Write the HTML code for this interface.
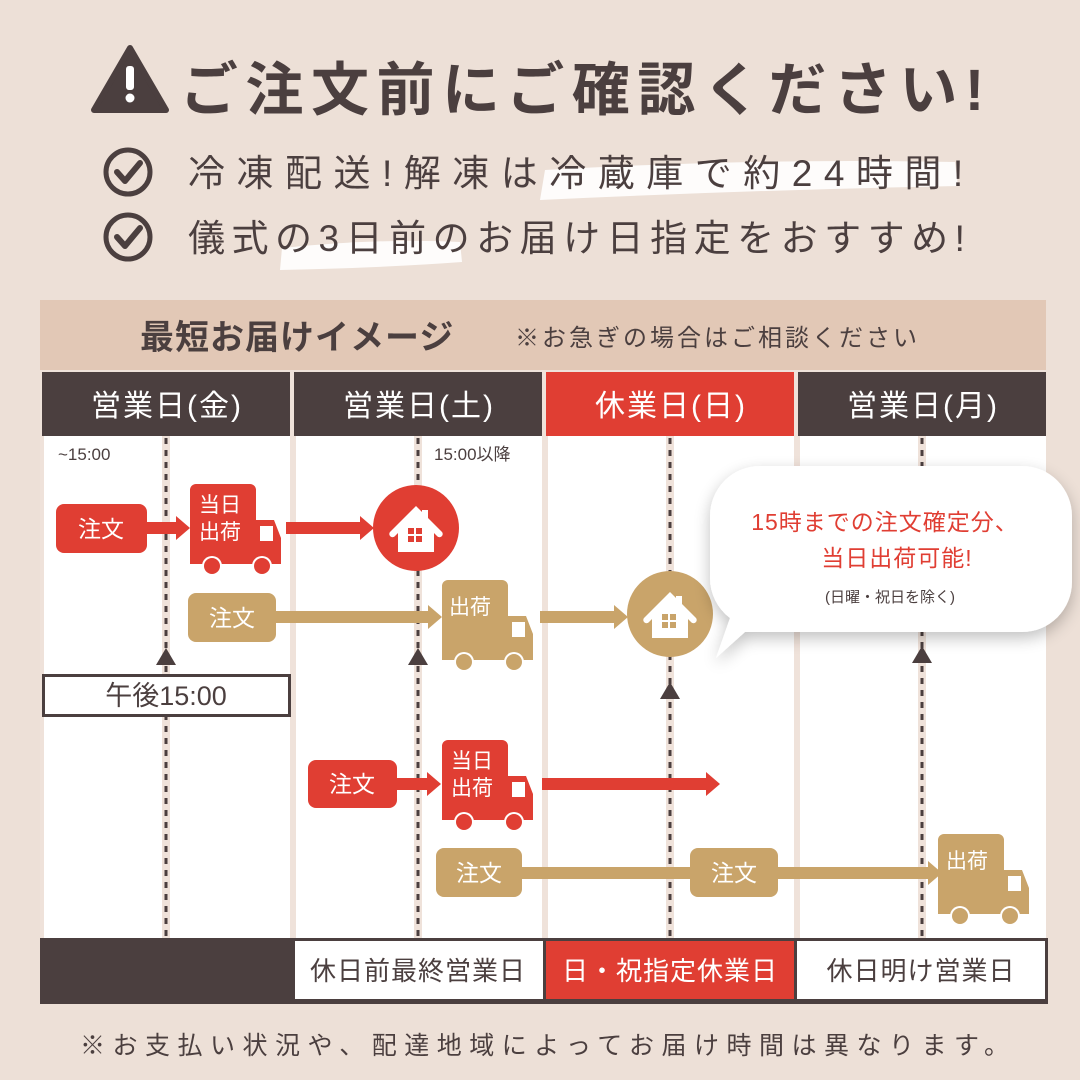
<!DOCTYPE html>
<html><head><meta charset="utf-8"><style>
html,body{margin:0;padding:0;background:#ede0d7;}
svg{display:block}
text{font-family:"Liberation Sans","Noto Sans CJK JP",sans-serif;}
</style></head><body>
<svg width="1080" height="1080" viewBox="0 0 1080 1080" xmlns="http://www.w3.org/2000/svg">
<defs>
<g id="truck">
<path d="M6 0 H60 a6 6 0 0 1 6 6 V36 H84 L91 54 V80 H0 V6 a6 6 0 0 1 6 -6Z"/>
<rect x="70" y="42" width="13" height="15" fill="#fff"/>
<circle cx="22" cy="82" r="10" fill="#fff"/><circle cx="22" cy="82" r="8"/>
<circle cx="72" cy="82" r="10" fill="#fff"/><circle cx="72" cy="82" r="8"/>
</g>
<g id="house">
<path d="M0 -24 L26 2 a3 3 0 0 1 -5 4 L18 3 V22 H-18 V3 L-21 6 a3 3 0 0 1 -5 -4Z" fill="#fff"/>
<rect x="6" y="-20" width="6" height="12" fill="#fff"/>
<rect x="-8" y="-2" width="6" height="6"/><rect x="0" y="-2" width="6" height="6"/>
<rect x="-8" y="6" width="6" height="6"/><rect x="0" y="6" width="6" height="6"/>
</g>
<filter id="sh" x="-20%" y="-20%" width="140%" height="160%"><feGaussianBlur in="SourceAlpha" stdDeviation="8"/><feOffset dy="6"/><feComponentTransfer><feFuncA type="linear" slope="0.25"/></feComponentTransfer><feMerge><feMergeNode/><feMergeNode in="SourceGraphic"/></feMerge></filter>
</defs>
<rect width="1080" height="1080" fill="#ede0d7"/>
<!-- title -->
<path d="M130 48 L166 110 H94 Z" fill="#4b3f3f" stroke="#4b3f3f" stroke-width="6" stroke-linejoin="round"/>
<rect x="126" y="66" width="8" height="24" rx="3" fill="#fff"/><circle cx="130" cy="98" r="4.5" fill="#fff"/>
<text x="180" y="110" font-size="58" font-weight="bold" fill="#4b3f3f" letter-spacing="7.5">ご注文前にご確認ください!</text>
<path d="M545 170 Q750 158 955 162 L958 186 Q750 190 540 200Z" fill="#fff" opacity="0.9"/>
<path d="M282 248 Q380 238 460 242 L462 262 Q380 268 280 270Z" fill="#fff" opacity="0.9"/>
<g fill="none" stroke="#4b3f3f" stroke-width="5"><circle cx="128" cy="172" r="22"/><circle cx="128" cy="237" r="22"/>
<path d="M117 172 l8 9 l15 -18 M117 237 l8 9 l15 -18" stroke-width="6" stroke-linecap="round" stroke-linejoin="round"/></g>
<text x="188" y="186" font-size="37" fill="#4b3f3f" letter-spacing="11.5">冷凍配送!解凍は冷蔵庫で約24時間!</text>
<text x="188" y="251" font-size="37" fill="#4b3f3f" letter-spacing="6.5">儀式の3日前のお届け日指定をおすすめ!</text>
<!-- panel -->
<rect x="40" y="300" width="1006" height="70" fill="#e2c8b6"/>
<text x="140" y="349" font-size="34" font-weight="bold" fill="#4b3f3f" letter-spacing="1">最短お届けイメージ</text>
<text x="515" y="346" font-size="24" fill="#4b3f3f" letter-spacing="3">※お急ぎの場合はご相談ください</text>
<rect x="40" y="370" width="1006" height="568" fill="#efe2da"/>
<g fill="#fff"><rect x="44" y="436" width="246" height="502"/><rect x="296" y="436" width="246" height="502"/><rect x="548" y="436" width="246" height="502"/><rect x="800" y="436" width="246" height="502"/></g>
<g fill="#4b3f3f"><rect x="42" y="372" width="248" height="64"/><rect x="294" y="372" width="248" height="64"/><rect x="798" y="372" width="248" height="64"/></g>
<rect x="546" y="372" width="248" height="64" fill="#e03e33"/>
<g font-size="30" fill="#fff" text-anchor="middle" letter-spacing="2"><text x="167" y="416">営業日(金)</text><text x="419" y="416">営業日(土)</text><text x="671" y="416">休業日(日)</text><text x="923" y="416">営業日(月)</text></g>
<g fill="#efe2da"><rect x="162" y="436" width="8" height="502"/><rect x="414" y="436" width="8" height="502"/><rect x="666" y="436" width="8" height="502"/><rect x="918" y="436" width="8" height="502"/></g>
<g stroke="#4b3f3f" stroke-width="3" stroke-dasharray="6 6"><line x1="166" y1="438" x2="166" y2="938"/><line x1="418" y1="438" x2="418" y2="938"/><line x1="670" y1="438" x2="670" y2="938"/><line x1="922" y1="438" x2="922" y2="938"/></g>
<text x="58" y="460" font-size="17" fill="#4b3f3f">~15:00</text>
<text x="434" y="460" font-size="17" fill="#4b3f3f">15:00以降</text>
<!-- arrows -->
<g fill="#e03e33">
<rect x="145" y="522" width="32" height="12"/><path d="M176 516 L190 528 L176 540Z"/>
<rect x="286" y="522" width="76" height="12"/><path d="M360 516 L374 528 L360 540Z"/>
<rect x="396" y="778" width="32" height="12"/><path d="M427 772 L441 784 L427 796Z"/>
<rect x="542" y="778" width="166" height="12"/><path d="M706 772 L720 784 L706 796Z"/>
</g>
<g fill="#c9a46a">
<rect x="276" y="611" width="154" height="12"/><path d="M428 605 L442 617 L428 629Z"/>
<rect x="540" y="611" width="76" height="12"/><path d="M614 605 L628 617 L614 629Z"/>
<rect x="520" y="867" width="180" height="12"/>
<rect x="776" y="867" width="154" height="12"/><path d="M928 861 L942 873 L928 885Z"/>
</g>
<!-- order boxes -->
<g fill="#e03e33"><rect x="56" y="504" width="91" height="49" rx="8"/><rect x="308" y="760" width="89" height="48" rx="8"/></g>
<g fill="#c9a46a"><rect x="188" y="593" width="88" height="49" rx="8"/><rect x="436" y="848" width="86" height="49" rx="8"/><rect x="690" y="848" width="88" height="49" rx="8"/></g>
<g font-size="23" fill="#fff" text-anchor="middle"><text x="101" y="537">注文</text><text x="232" y="626">注文</text><text x="352" y="792">注文</text><text x="479" y="881">注文</text><text x="734" y="881">注文</text></g>
<!-- trucks -->
<use href="#truck" x="190" y="484" fill="#e03e33"/>
<use href="#truck" x="442" y="740" fill="#e03e33"/>
<use href="#truck" x="442" y="580" fill="#c9a46a"/>
<use href="#truck" x="938" y="834" fill="#c9a46a"/>
<g font-size="21" fill="#fff"><text x="199" y="512">当日</text><text x="199" y="539">出荷</text><text x="451" y="768">当日</text><text x="451" y="795">出荷</text><text x="449" y="614">出荷</text><text x="946" y="868">出荷</text></g>
<circle cx="416" cy="528" r="43" fill="#e03e33"/><use href="#house" x="416" y="530" fill="#e03e33"/>
<circle cx="670" cy="614" r="43" fill="#c9a46a"/><use href="#house" x="670" y="616" fill="#c9a46a"/>
<!-- markers -->
<g fill="#4b3f3f"><path d="M166 648 L176 665 H156Z"/><path d="M418 648 L428 665 H408Z"/><path d="M670 682 L680 699 H660Z"/><path d="M922 646 L932 663 H912Z"/></g>
<rect x="43.5" y="675.5" width="246" height="40" fill="#fff" stroke="#4b3f3f" stroke-width="3"/>
<text x="166" y="705" font-size="27" fill="#4b3f3f" text-anchor="middle">午後15:00</text>
<!-- bubble -->
<g filter="url(#sh)"><path d="M760 466 H1022 a50 50 0 0 1 50 50 V582 a50 50 0 0 1 -50 50 H745 L716 658 L730 618 a50 50 0 0 1 -20 -40 V516 a50 50 0 0 1 50 -50Z" fill="#fff"/></g>
<text x="885" y="530" font-size="23" fill="#e03e33" text-anchor="middle" letter-spacing="1">15時までの注文確定分、</text>
<text x="897" y="566" font-size="23" fill="#e03e33" text-anchor="middle" letter-spacing="1">当日出荷可能!</text>
<text x="890" y="602" font-size="15" fill="#4b3f3f" text-anchor="middle">(日曜・祝日を除く)</text>
<!-- bottom row -->
<rect x="40" y="938" width="1008" height="66" fill="#4b3f3f"/>
<rect x="295" y="941" width="248" height="58" fill="#fff"/>
<rect x="546" y="941" width="248" height="58" fill="#e03e33"/>
<rect x="797" y="941" width="248" height="58" fill="#fff"/>
<g font-size="26" text-anchor="middle" letter-spacing="1"><text x="418" y="980" fill="#4b3f3f">休日前最終営業日</text><text x="670" y="980" fill="#fff">日・祝指定休業日</text><text x="921" y="980" fill="#4b3f3f">休日明け営業日</text></g>
<text x="80" y="1054" font-size="25" fill="#4b3f3f" letter-spacing="7.5">※お支払い状況や、配達地域によってお届け時間は異なります。</text>
</svg>
</body></html>
